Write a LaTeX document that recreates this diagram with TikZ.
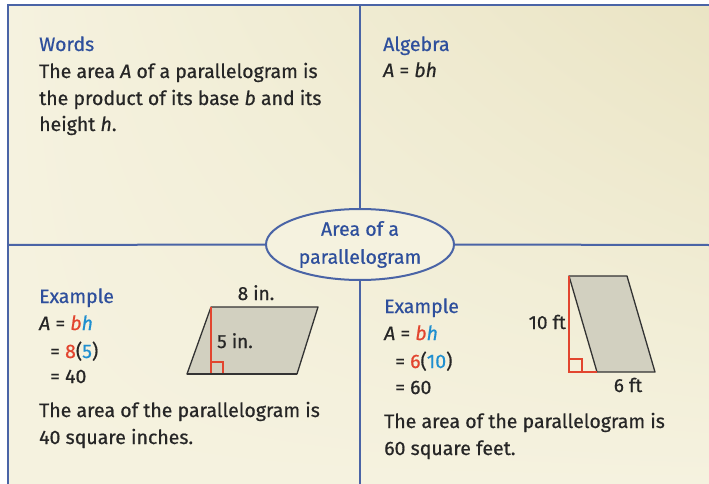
\documentclass[tikz,border=0pt]{standalone}
\usepackage{fontspec}
\setmainfont{Fira Sans}[FakeBold=0.6]
\usetikzlibrary{shapes.geometric,shadings}
\definecolor{framec}{HTML}{4A64A6}
\definecolor{headc}{HTML}{2E4F9C}
\definecolor{txtc}{HTML}{262626}
\definecolor{redc}{HTML}{E2452F}
\definecolor{cyanc}{HTML}{1F8FD0}
\definecolor{figfill}{HTML}{D2D0C0}
\definecolor{bgA}{HTML}{F5F2DF}
\definecolor{bgB}{HTML}{EAE4C4}
\tikzset{
  frame/.style={draw=framec, line width=2pt},
  head/.style={anchor=base west, inner sep=0pt, text=headc, font=\fontsize{19.5}{22}\selectfont},
  body/.style={anchor=base west, inner sep=0pt, text=txtc, font=\fontsize{19.5}{22}\selectfont},
  lab/.style={inner sep=0pt, text=txtc, font=\fontsize{19}{22}\selectfont},
  para/.style={draw=black!80, line width=1.3pt, fill=figfill, line join=round},
  hgt/.style={draw=redc, line width=1.2pt},
  hub/.style={ellipse, draw=framec, line width=2pt, fill=bgA, minimum width=188pt, minimum height=71pt, inner sep=0pt, text=headc, align=center, font=\fontsize{19.5}{28}\selectfont}
}
\begin{document}
\begin{tikzpicture}[x=1pt,y=-1pt]
\useasboundingbox (0,0) rectangle (709,484);
\fill[white] (0,0) rectangle (709,484);
\shade[upper left=bgA, upper right=bgB, lower left=bgA, lower right=bgA] (8,5) rectangle (709,484);
% frame and dividers
\coordinate (tl) at (8,5);
\coordinate (tr) at (709,5);
\coordinate (bl) at (8,484);
\coordinate (vt) at (360,5);
\coordinate (vb) at (360,484);
\coordinate (hl) at (8,245);
\coordinate (hr) at (709,245);
\draw[frame] (tr) -- (tl) -- (bl);
\node[hub] (hubn) at (360,244.5) {Area of a\\parallelogram};
\draw[frame] (vt) -- (hubn.north);
\draw[frame] (hubn.south) -- (vb);
\draw[frame] (hl) -- (hubn.west);
\draw[frame] (hubn.east) -- (hr);
% Words
\node[head] (wh) at (39,51) {Words};
\node[body] (w1) at (39,78) {The area \textit{A} of a parallelogram is};
\node[body] (w2) at (39,105) {the product of its base \textit{b} and its};
\node[body] (w3) at (39,131) {height \textit{h}.};
% Algebra
\node[head] (ah) at (383,51) {Algebra};
\node[body] (a1) at (383,77) {\textit{A} = \textit{bh}};
% Example 1
\node[head] (e1h) at (39,303) {Example};
\node[body] (e1a) at (39,330) {\textit{A} = \textcolor{redc}{\textit{b}}\textcolor{cyanc}{\textit{h}}};
\node[body] (e1b) at (50,358) {= \textcolor{redc}{8}(\textcolor{cyanc}{5})};
\node[body] (e1c) at (50,383) {= 40};
\node[body] (e1d) at (39,417) {The area of the parallelogram is};
\node[body] (e1e) at (39,444) {40 square inches.};
% Figure 1
\coordinate (p1a) at (187,374);
\coordinate (p1b) at (297,374);
\coordinate (p1c) at (318,307);
\coordinate (p1d) at (211,307);
\coordinate (p1f) at (211,374);
\draw[para] (p1a) -- (p1b) -- (p1c) -- (p1d) -- cycle;
\draw[hgt] (p1d) -- (p1f);
\draw[hgt] (211,362) -- (223,362) -- (223,374);
\draw[para, fill=none] (p1a) -- (p1b);
\node[lab, anchor=base] (l8) at (256,300) {8 in.};
\node[lab, anchor=base west] (l5) at (217,348) {5 in.};
% Example 2
\node[head] (e2h) at (384,313) {Example};
\node[body] (e2a) at (384,340) {\textit{A} = \textcolor{redc}{\textit{b}}\textcolor{cyanc}{\textit{h}}};
\node[body] (e2b) at (395,368) {= \textcolor{redc}{6}(\textcolor{cyanc}{10})};
\node[body] (e2c) at (395,394) {= 60};
\node[body] (e2d) at (384,428) {The area of the parallelogram is};
\node[body] (e2e) at (384,455) {60 square feet.};
% Figure 2
\coordinate (p2a) at (597,372);
\coordinate (p2b) at (655,372);
\coordinate (p2c) at (627,276);
\coordinate (p2d) at (569,276);
\coordinate (p2f) at (569,372);
\draw[para] (p2a) -- (p2b) -- (p2c) -- (p2d) -- cycle;
\draw[hgt] (p2d) -- (p2f) -- (p2a);
\draw[hgt] (569,359) -- (582,359) -- (582,372);
\node[lab, anchor=base east] (l10) at (566,329) {10 ft};
\node[lab, anchor=base] (l6) at (628,392) {6 ft};
\end{tikzpicture}
\end{document}
